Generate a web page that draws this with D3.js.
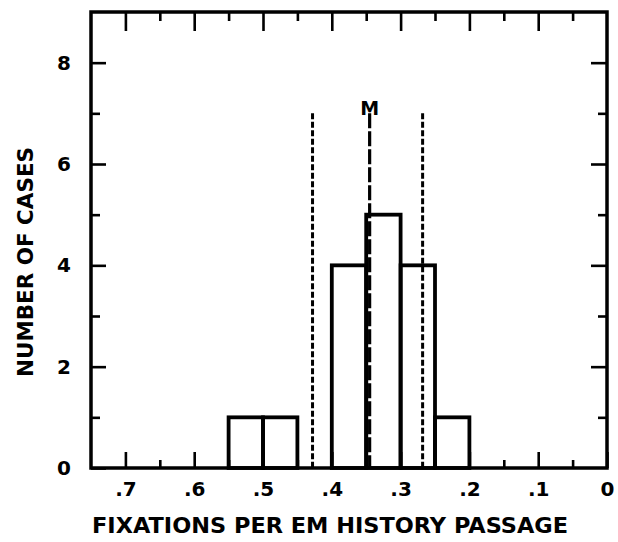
<!DOCTYPE html>
<html>
<head>
<meta charset="utf-8">
<script src="https://cdn.jsdelivr.net/npm/d3@7"></script>
<style>
  html, body { margin: 0; padding: 0; background: #fff; }
  svg { display: block; }
  text { font-family: "DejaVu Sans", "Liberation Sans", Arial, sans-serif; font-weight: bold; fill: #000; }
</style>
</head>
<body>
<svg id="chart" width="618" height="542"></svg>
<script>
// Histogram bins (fixations per em), high edge to low edge, and case counts
const binHi = [0.55, 0.50, 0.40, 0.35, 0.30, 0.25];
const binLo = [0.50, 0.45, 0.35, 0.30, 0.25, 0.20];
const counts = [1, 1, 4, 5, 4, 1];

// Mean (M) and the two dashed limits around it
const meanValue = 0.345;
const limitValues = [0.428, 0.268];
const lineTop = 7;

// Axis ticks and labels
const xMajor = [0.7, 0.6, 0.5, 0.4, 0.3, 0.2, 0.1, 0];
const xLabels = [".7", ".6", ".5", ".4", ".3", ".2", ".1", "0"];
const xMinor = [0.65, 0.55, 0.45, 0.35, 0.25, 0.15, 0.05];
const yMajor = [0, 2, 4, 6, 8];
const yMinor = [1, 3, 5, 7];

const plotLeft = 91, plotRight = 607, plotTop = 12, plotBottom = 468;

const svg = d3.select("#chart");
const x = d3.scaleLinear().domain([0.75, 0]).range([plotLeft, plotRight]);
const y = d3.scaleLinear().domain([0, 9]).range([plotBottom, plotTop]);

// Bars
svg.append("g").selectAll("rect")
  .data(counts)
  .join("rect")
  .attr("x", (d, i) => x(binHi[i]))
  .attr("width", (d, i) => x(binLo[i]) - x(binHi[i]))
  .attr("y", d => y(d))
  .attr("height", d => y(0) - y(d))
  .attr("fill", "none")
  .attr("stroke", "#000")
  .attr("stroke-width", 3.8);

// Dashed limit lines
svg.append("g").selectAll("line")
  .data(limitValues)
  .join("line")
  .attr("x1", d => x(d)).attr("x2", d => x(d))
  .attr("y1", y(lineTop)).attr("y2", y(0))
  .attr("stroke", "#000")
  .attr("stroke-width", 3)
  .attr("stroke-dasharray", "6 2.5");

// Mean line
svg.append("line")
  .attr("x1", x(meanValue)).attr("x2", x(meanValue))
  .attr("y1", y(lineTop)).attr("y2", y(0))
  .attr("stroke", "#000")
  .attr("stroke-width", 3.2)
  .attr("stroke-dasharray", "15 3");

svg.append("text")
  .attr("x", x(meanValue))
  .attr("y", 115)
  .attr("text-anchor", "middle")
  .attr("font-size", 19)
  .text("M");

// Axes: ticks point inward on all four sides
function styleAxis(g) {
  g.select(".domain").remove();
  g.selectAll(".tick line").attr("stroke", "#000").attr("stroke-width", 2.6);
}

svg.append("g").attr("transform", `translate(0,${plotBottom})`)
  .call(d3.axisBottom(x).tickValues(xMajor).tickSize(-16).tickPadding(14)
    .tickFormat((d, i) => xLabels[i]))
  .call(styleAxis)
  .call(g => g.selectAll("text").attr("font-size", 20).attr("dy", "0.71em"));

svg.append("g").attr("transform", `translate(0,${plotBottom})`)
  .call(d3.axisBottom(x).tickValues(xMinor).tickSize(-8).tickFormat(""))
  .call(styleAxis);

svg.append("g").attr("transform", `translate(0,${plotTop})`)
  .call(d3.axisTop(x).tickValues(xMajor.filter(d => d > 0)).tickSize(-19).tickFormat(""))
  .call(styleAxis);

svg.append("g").attr("transform", `translate(0,${plotTop})`)
  .call(d3.axisTop(x).tickValues(xMinor).tickSize(-9).tickFormat(""))
  .call(styleAxis);

svg.append("g").attr("transform", `translate(${plotLeft},0)`)
  .call(d3.axisLeft(y).tickValues(yMajor).tickSize(-15).tickPadding(20).tickFormat(d3.format("d")))
  .call(styleAxis)
  .call(g => g.selectAll("text").attr("font-size", 20));

svg.append("g").attr("transform", `translate(${plotLeft},0)`)
  .call(d3.axisLeft(y).tickValues(yMinor).tickSize(-9).tickFormat(""))
  .call(styleAxis);

svg.append("g").attr("transform", `translate(${plotRight},0)`)
  .call(d3.axisRight(y).tickValues(yMajor.filter(d => d > 0)).tickSize(-16).tickFormat(""))
  .call(styleAxis);

svg.append("g").attr("transform", `translate(${plotRight},0)`)
  .call(d3.axisRight(y).tickValues(yMinor).tickSize(-9).tickFormat(""))
  .call(styleAxis);

// Frame
svg.append("rect")
  .attr("x", plotLeft).attr("y", plotTop)
  .attr("width", plotRight - plotLeft).attr("height", plotBottom - plotTop)
  .attr("fill", "none")
  .attr("stroke", "#000")
  .attr("stroke-width", 3.5);

// Axis titles
svg.append("text")
  .attr("x", 330).attr("y", 533)
  .attr("text-anchor", "middle")
  .attr("font-size", 22)
  .attr("textLength", 476)
  .attr("lengthAdjust", "spacingAndGlyphs")
  .text("FIXATIONS PER EM HISTORY PASSAGE");

svg.append("text")
  .attr("transform", "translate(33,262) rotate(-90)")
  .attr("text-anchor", "middle")
  .attr("font-size", 21)
  .attr("textLength", 230)
  .attr("lengthAdjust", "spacingAndGlyphs")
  .text("NUMBER OF CASES");
</script>
</body>
</html>
